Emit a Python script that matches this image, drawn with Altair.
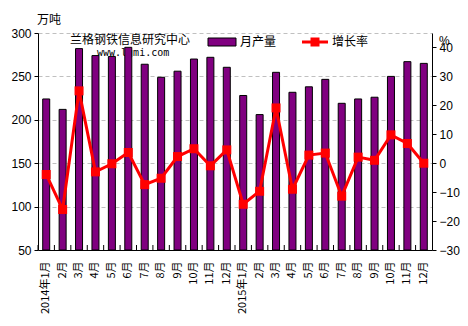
import altair as alt
import pandas as pd

month_labels = ["2014年1月", "2月", "3月", "4月", "5月", "6月", "7月", "8月", "9月", "10月", "11月", "12月",
                "2015年1月", "2月", "3月", "4月", "5月", "6月", "7月", "8月", "9月", "10月", "11月", "12月"]
production = [224, 212, 282, 274, 273, 283.5, 264, 249, 256, 270, 272, 260.5,
              228, 206, 254.7, 231.7, 238, 246.6, 219, 224, 226, 250, 267, 265]
growth = [-3.9, -16, 25, -3, -0.2, 3.7, -7.4, -5.2, 2.3, 5, -0.9, 4.6,
          -14.2, -9.7, 19.1, -9, 2.8, 3.5, -11.4, 2.1, 1.0, 9.8, 6.8, 0]

df = pd.DataFrame({"idx": list(range(len(month_labels))), "prod": production, "rate": growth})

W, H = 394, 217
label_js = "[" + ",".join("'%s'" % s for s in month_labels) + "][datum.value]"

xenc = alt.X("idx:O", scale=alt.Scale(paddingInner=0, paddingOuter=0),
             axis=alt.Axis(title=None, labelExpr=label_js, labelAngle=-90, labelAlign="right",
                           labelBaseline="middle", labelFont="Noto Sans CJK SC", labelFontSize=11,
                           labelColor="black", ticks=False, domainColor="black", labelPadding=11))

base = alt.Chart(df)

bars = base.mark_bar(color="#800080", stroke="black", strokeWidth=1, width=7, clip=True).encode(
    x=xenc,
    y=alt.Y("prod:Q", scale=alt.Scale(domain=[50, 300], zero=False, nice=False),
            axis=alt.Axis(title=None, values=[50, 100, 150, 200, 250, 300], grid=True,
                          gridDash=[4, 3], gridColor="#c0c0c0", domainColor="black",
                          tickColor="black", tickSize=4, labelFont="Liberation Sans",
                          labelFontSize=12, labelColor="black", labelPadding=3)),
    y2=alt.Y2Datum(50),
)

xticks = base.mark_rule(color="black", strokeWidth=1).encode(
    x=alt.X("idx:O", bandPosition=0),
    y=alt.value(H - 5), y2=alt.value(H),
)

yr = alt.Y("rate:Q", scale=alt.Scale(domain=[-30, 45], nice=False, zero=False),
           axis=alt.Axis(title=None, orient="right", values=list(range(-30, 41, 10)), grid=False,
                         domainColor="black", tickColor="black", tickSize=4,
                         labelFont="Liberation Sans", labelFontSize=12, labelColor="black",
                         labelPadding=3))

line = base.mark_line(color="#ff0000", strokeWidth=3).encode(x=alt.X("idx:O"), y=yr)
pts = base.mark_square(color="#ff0000", size=81, opacity=1).encode(x=alt.X("idx:O"), y=yr)

def txt(s, x, y, size=12, font="Noto Sans CJK SC", align="left"):
    return alt.Chart(pd.DataFrame({"t": [s]})).mark_text(
        font=font, fontSize=size, color="black", align=align, baseline="middle").encode(
        text="t:N", x=alt.value(x), y=alt.value(y))

unit_l = txt("万吨", -1, -13, 12)
unit_r = txt("%", 401, 8, 12, "Liberation Sans")
wm1 = txt("兰格钢铁信息研究中心", 32, 7, 12)
wm2 = txt("www.lgmi.com", 59, 20, 10, "DejaVu Sans Mono")

leg_df = pd.DataFrame({"a": [0]})
swatch = alt.Chart(leg_df).mark_rect(color="#800080", stroke="black", strokeWidth=1).encode(
    x=alt.value(170), x2=alt.value(198), y=alt.value(5), y2=alt.value(13))
leg1 = txt("月产量", 202, 9, 12)
legline = alt.Chart(leg_df).mark_rule(color="#ff0000", strokeWidth=3).encode(
    x=alt.value(264), x2=alt.value(290), y=alt.value(9))
legsq = alt.Chart(leg_df).mark_square(color="#ff0000", size=81, opacity=1).encode(
    x=alt.value(277), y=alt.value(9))
leg2 = txt("增长率", 294, 9, 12)

left = alt.layer(wm1, wm2, bars, xticks)
right = alt.layer(line, pts)

chart = alt.layer(left, right, unit_l, unit_r, swatch, leg1, legline, legsq, leg2).resolve_scale(
    y="independent"
).properties(
    width=W, height=H,
    autosize=alt.AutoSizeParams(type="none"),
    padding={"left": 38, "top": 33, "right": 36, "bottom": 76},
    background="white",
).configure_view(stroke=None)

chart.save("out.html", embed_options={"renderer": "svg", "actions": False})
